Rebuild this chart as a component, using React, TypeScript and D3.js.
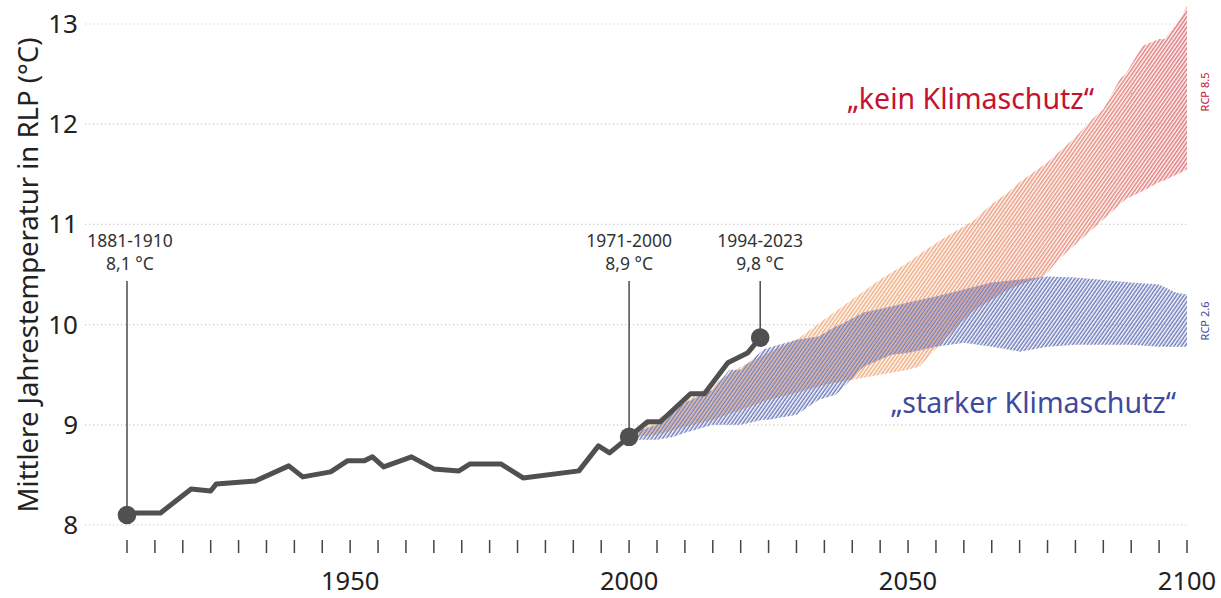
import React from 'react';
import * as d3 from 'd3';

// ---------- data ----------
const histYears = [1910, 1916, 1921.5, 1925, 1926, 1933, 1939, 1941.5, 1946.5, 1949.5, 1952.5, 1954, 1956, 1961, 1965, 1969.5, 1971.5, 1977, 1981, 1991, 1994.5, 1996.5, 2000, 2003.3, 2005.6, 2011, 2013.5, 2017.7, 2021.3, 2023.5];
const histTemps = [8.12, 8.12, 8.36, 8.34, 8.41, 8.44, 8.59, 8.48, 8.53, 8.64, 8.64, 8.68, 8.58, 8.68, 8.56, 8.54, 8.61, 8.61, 8.47, 8.54, 8.79, 8.72, 8.88, 9.03, 9.03, 9.31, 9.31, 9.62, 9.72, 9.87];

const rcp85Years = [2001, 2005, 2010, 2015, 2020, 2025, 2030, 2035, 2040, 2045, 2050, 2052, 2056, 2060, 2062, 2065, 2068, 2070, 2074, 2075, 2077, 2080, 2083, 2085, 2088, 2089, 2092, 2095, 2096, 2099, 2100];
const rcp85Low = [8.88, 8.9, 8.98, 9.05, 9.15, 9.25, 9.32, 9.4, 9.45, 9.5, 9.55, 9.58, 9.82, 10.05, 10.15, 10.25, 10.35, 10.4, 10.47, 10.52, 10.65, 10.8, 10.95, 11.05, 11.2, 11.25, 11.33, 11.42, 11.44, 11.52, 11.55];
const rcp85High = [8.95, 9.05, 9.25, 9.4, 9.58, 9.72, 9.85, 10.05, 10.25, 10.45, 10.62, 10.7, 10.85, 10.98, 11.05, 11.2, 11.32, 11.42, 11.58, 11.62, 11.72, 11.87, 12.05, 12.15, 12.45, 12.5, 12.78, 12.85, 12.85, 13.07, 13.18];

const rcp26Years = [2001, 2005, 2008, 2010, 2015, 2018, 2020, 2024, 2025, 2030, 2034, 2037, 2038, 2042, 2047, 2050, 2055, 2060, 2065, 2070, 2075, 2080, 2090, 2095, 2098, 2100];
const rcp26Low = [8.85, 8.85, 8.88, 8.92, 9.0, 9.0, 9.0, 9.05, 9.05, 9.1, 9.25, 9.3, 9.35, 9.58, 9.7, 9.72, 9.78, 9.82, 9.78, 9.73, 9.78, 9.8, 9.8, 9.78, 9.78, 9.78];
const rcp26High = [8.93, 9.0, 9.15, 9.22, 9.35, 9.55, 9.55, 9.75, 9.77, 9.85, 9.88, 9.98, 10.0, 10.12, 10.18, 10.22, 10.28, 10.35, 10.42, 10.45, 10.48, 10.47, 10.42, 10.4, 10.32, 10.3];

const yTickValues = [8, 9, 10, 11, 12, 13];
const xLabelYears = [1950, 2000, 2050, 2100];

const annoPeriods = ['1881-1910', '1971-2000', '1994-2023'];
const annoValues = ['8,1 °C', '8,9 °C', '9,8 °C'];
const annoYears = [1910, 2000, 2023.5];
const annoTemps = [8.1, 8.88, 9.87];

const yTitle = 'Mittlere Jahrestemperatur in RLP (°C)';
const label85 = '\u201Ekein Klimaschutz\u201C';
const label26 = '\u201Estarker Klimaschutz\u201C';

// ---------- layout ----------
const W = 1221;
const H = 598;
const FONT = "'Noto Sans', 'Open Sans', sans-serif";

const x = d3.scaleLinear().domain([1910, 2100]).range([127, 1187]);
const y = d3.scaleLinear().domain([8, 13]).range([525, 24]);

type Band = { year: number; lo: number; hi: number };
const band85: Band[] = rcp85Years.map((yr, i) => ({ year: yr, lo: rcp85Low[i], hi: rcp85High[i] }));
const band26: Band[] = rcp26Years.map((yr, i) => ({ year: yr, lo: rcp26Low[i], hi: rcp26High[i] }));
const hist = histYears.map((yr, i) => ({ year: yr, t: histTemps[i] }));

const area = d3
  .area<Band>()
  .x((d) => x(d.year))
  .y0((d) => y(d.lo))
  .y1((d) => y(d.hi));

const line = d3
  .line<{ year: number; t: number }>()
  .x((d) => x(d.year))
  .y((d) => y(d.t));

const tickYears = d3.range(1910, 2101, 5);

export default function App() {
  return (
    <svg
      width={W}
      height={H}
      style={{ position: 'absolute', left: 0, top: 0, display: 'block', background: '#fff' }}
      fontFamily={FONT}
    >
      <defs>
        <pattern id="hatchA" width="3" height="3" patternUnits="userSpaceOnUse" patternTransform="rotate(35)">
          <rect width="3" height="3" fill="black" />
          <rect x="0" y="0" width="1.6" height="3" fill="white" />
        </pattern>
        <pattern id="hatchB" width="3" height="3" patternUnits="userSpaceOnUse" patternTransform="rotate(35)">
          <rect width="3" height="3" fill="black" />
          <rect x="1.5" y="0" width="1.6" height="3" fill="white" />
        </pattern>
        <mask id="maskA" maskUnits="userSpaceOnUse" x="0" y="0" width={W} height={H}>
          <rect width={W} height={H} fill="url(#hatchA)" />
        </mask>
        <mask id="maskB" maskUnits="userSpaceOnUse" x="0" y="0" width={W} height={H}>
          <rect width={W} height={H} fill="url(#hatchB)" />
        </mask>
        <linearGradient id="grad85" gradientUnits="userSpaceOnUse" x1={x(2000)} y1="0" x2={x(2100)} y2="0">
          <stop offset="0" stopColor="#f3c08c" />
          <stop offset="0.5" stopColor="#f0ad82" />
          <stop offset="0.8" stopColor="#e99482" />
          <stop offset="1" stopColor="#e0787e" />
        </linearGradient>
      </defs>

      {/* gridlines */}
      {yTickValues.map((v) => (
        <line
          key={'g' + v}
          x1={85}
          x2={1187}
          y1={y(v)}
          y2={y(v)}
          stroke="#c8c8c8"
          strokeWidth={1.2}
          strokeDasharray="1.2 2.8"
        />
      ))}

      {/* y tick labels */}
      {yTickValues.map((v) => (
        <text key={'yl' + v} x={78} y={y(v) + 9} textAnchor="end" fontSize={26} fill="#222">
          {v}
        </text>
      ))}

      {/* y title */}
      <text
        transform={`translate(38, 275) rotate(-90)`}
        textAnchor="middle"
        fontSize={27.5}
        fill="#222"
      >
        {yTitle}
      </text>

      {/* x ticks */}
      {tickYears.map((yr) => (
        <line key={'t' + yr} x1={x(yr)} x2={x(yr)} y1={540} y2={553} stroke="#444" strokeWidth={1.5} />
      ))}
      {xLabelYears.map((yr) => (
        <text key={'xl' + yr} x={x(yr)} y={590} textAnchor="middle" fontSize={25.5} fill="#222">
          {yr}
        </text>
      ))}

      {/* projection bands */}
      <path d={area(band85) || ''} fill="url(#grad85)" mask="url(#maskA)" />
      <path d={area(band26) || ''} fill="#6b78bb" mask="url(#maskB)" />

      {/* annotation leaders */}
      {annoYears.map((yr, i) => (
        <line
          key={'al' + i}
          x1={x(yr)}
          x2={x(yr)}
          y1={281}
          y2={y(annoTemps[i])}
          stroke="#555"
          strokeWidth={1.6}
        />
      ))}

      {/* historical line */}
      <path
        d={line(hist) || ''}
        fill="none"
        stroke="#505050"
        strokeWidth={5}
        strokeLinejoin="round"
        strokeLinecap="round"
      />
      {annoYears.map((yr, i) => (
        <circle key={'d' + i} cx={x(yr)} cy={y(annoTemps[i])} r={9.3} fill="#505050" />
      ))}

      {/* annotation text */}
      {annoYears.map((yr, i) => (
        <g key={'at' + i}>
          <text x={x(yr) + (i === 0 ? 3 : 0)} y={247} textAnchor="middle" fontSize={17.5} fill="#333">
            {annoPeriods[i]}
          </text>
          <text x={x(yr) + (i === 0 ? 3 : 0)} y={270} textAnchor="middle" fontSize={17.5} fill="#333">
            {annoValues[i]}
          </text>
        </g>
      ))}

      {/* scenario labels */}
      <text x={1094} y={109} textAnchor="end" fontSize={28.5} fill="#c41230">
        {label85}
      </text>
      <text x={1176} y={413} textAnchor="end" fontSize={28.5} fill="#3f4a9e">
        {label26}
      </text>

      <text transform="translate(1209, 92) rotate(-90)" textAnchor="middle" fontSize={11} fill="#c41230">
        RCP 8.5
      </text>
      <text transform="translate(1209, 321) rotate(-90)" textAnchor="middle" fontSize={11} fill="#3f4a9e">
        RCP 2.6
      </text>
    </svg>
  );
}
